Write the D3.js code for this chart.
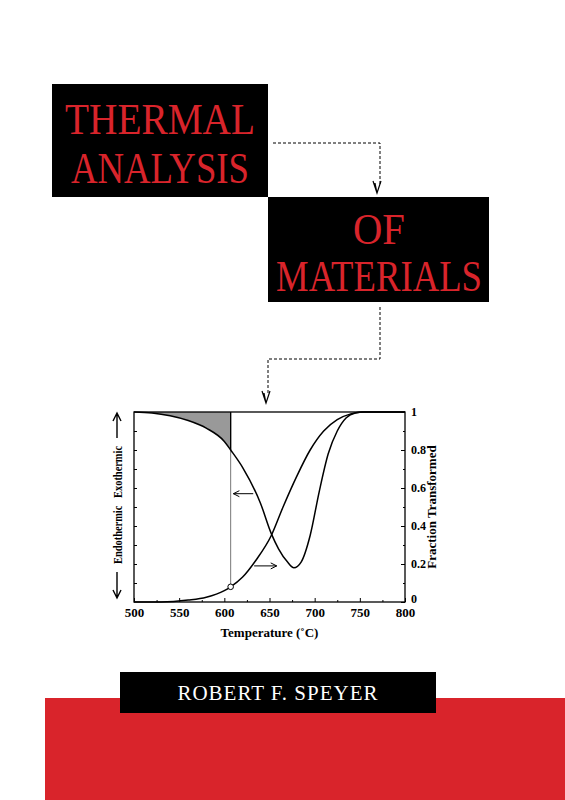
<!DOCTYPE html><html><head><script src="https://cdn.jsdelivr.net/npm/d3@7"></script>
<style>body{margin:0;background:#fff}</style></head><body><svg id="c" width="565" height="800"></svg>
<script>
const dscT=[500,520,540,560,580,600,607,620,640,652,660,670,677,685,695,705,715,725,735,745,755,800];
const dscV=[1,0.995,0.98,0.955,0.915,0.845,0.8,0.71,0.52,0.36,0.28,0.21,0.18,0.21,0.35,0.58,0.78,0.9,0.97,0.995,1,1];
const fracT=[500,530,560,580,600,607,620,635,652,665,680,695,710,725,740,752,800];
const fracV=[0,0,0.01,0.025,0.06,0.08,0.13,0.22,0.35,0.5,0.66,0.8,0.9,0.96,0.99,1,1];
const xTicks=[500,550,600,650,700,750,800];
const yTicks=[0,0.2,0.4,0.6,0.8,1];
const markT=607;

const svg=d3.select("#c");
const red="#d9242b";
svg.append("rect").attr("x",52).attr("y",84).attr("width",216).attr("height",113).attr("fill","#000");
svg.append("rect").attr("x",268).attr("y",197).attr("width",221).attr("height",105).attr("fill","#000");
const tf=(x,y,t,s)=>svg.append("text").attr("x",x).attr("y",y).attr("text-anchor","middle").attr("fill",red)
 .attr("font-family","Liberation Serif").attr("font-size",s).text(t);
tf(160,134,"THERMAL",45).attr("textLength",190).attr("lengthAdjust","spacingAndGlyphs");
tf(160,183,"ANALYSIS",45).attr("textLength",178).attr("lengthAdjust","spacingAndGlyphs");
tf(379,244,"OF",45).attr("textLength",52).attr("lengthAdjust","spacingAndGlyphs");
tf(379,291,"MATERIALS",45).attr("textLength",206).attr("lengthAdjust","spacingAndGlyphs");
const dash=(pts)=>svg.append("path").attr("d",d3.line()(pts)).attr("fill","none").attr("stroke","#000").attr("stroke-dasharray","3,2").attr("stroke-width",1);
dash([[273,143],[380,143],[380,185]]);
dash([[380,307],[380,359],[268,359],[268,395]]);
const head=(x,y)=>svg.append("path").attr("d",`M${x-4},${y-12}L${x},${y}L${x+4},${y-12}M${x-2},${y-10}L${x},${y}`).attr("fill","none").attr("stroke","#000").attr("stroke-width",1.2);
head(377,193);head(266,403);

const L=134,R=405,T=412,B=602;
const x=d3.scaleLinear().domain([500,800]).range([L,R]);
const y=d3.scaleLinear().domain([0,1]).range([B,T]);
const g=svg.append("g");
const sh=dscT.map((t,i)=>[t,dscV[i]]).filter(d=>d[0]<=markT);
g.append("path").attr("d",d3.area().x(d=>x(d[0])).y0(y(1)).y1(d=>y(d[1])).curve(d3.curveMonotoneX)(sh)).attr("fill","#999");
g.append("rect").attr("x",L).attr("y",T).attr("width",R-L).attr("height",B-T).attr("fill","none").attr("stroke","#000").attr("stroke-width",1.3);
g.append("line").attr("x1",x(markT)).attr("x2",x(markT)).attr("y1",y(1)).attr("y2",y(0.08)).attr("stroke","#555").attr("stroke-width",0.8);
g.append("line").attr("x1",x(markT)).attr("x2",x(markT)).attr("y1",y(1)).attr("y2",y(0.8)).attr("stroke","#000").attr("stroke-width",1.3);
const ln=d3.line().x(d=>x(d[0])).y(d=>y(d[1])).curve(d3.curveMonotoneX);
g.append("path").attr("d",ln(dscT.map((t,i)=>[t,dscV[i]]))).attr("fill","none").attr("stroke","#000").attr("stroke-width",1.5);
g.append("path").attr("d",ln(fracT.map((t,i)=>[t,fracV[i]]))).attr("fill","none").attr("stroke","#000").attr("stroke-width",1.5);
g.append("circle").attr("cx",x(markT)).attr("cy",y(0.08)).attr("r",2.8).attr("fill","#fff").attr("stroke","#000");
g.append("g").attr("transform",`translate(0,${B})`).call(d3.axisBottom(x).tickValues(xTicks).tickSize(-4).tickPadding(6))
 .call(a=>{a.select(".domain").remove();a.selectAll("text").attr("font-family","Liberation Serif").attr("font-weight","bold").attr("font-size",13).attr("fill","#000");});
g.append("g").attr("transform",`translate(0,${B})`).call(d3.axisBottom(x).tickValues(d3.range(525,800,50)).tickSize(-2).tickFormat(""))
 .call(a=>a.select(".domain").remove());
g.append("g").attr("transform",`translate(${R},0)`).call(d3.axisRight(y).tickValues(yTicks).tickSize(-4).tickPadding(6).tickFormat(d=>d===0||d===1?d:d.toFixed(1)))
 .call(a=>{a.select(".domain").remove();a.selectAll("text").attr("font-family","Liberation Serif").attr("font-weight","bold").attr("font-size",12).attr("fill","#000");
   a.selectAll("text").filter(d=>d===0).attr("dy","0.05em");});
g.append("g").attr("transform",`translate(${R},0)`).call(d3.axisRight(y).tickValues(d3.range(0.1,1,0.2)).tickSize(-2).tickFormat(""))
 .call(a=>a.select(".domain").remove());
g.append("g").attr("transform",`translate(${L},0)`).call(d3.axisLeft(y).tickValues(d3.range(0.1,1,0.1)).tickSize(-3).tickFormat(""))
 .call(a=>a.select(".domain").remove());
svg.append("text").attr("x",(L+R)/2).attr("y",637).attr("text-anchor","middle").attr("font-family","Liberation Serif").attr("font-weight","bold").attr("font-size",13).text("Temperature (˚C)");
svg.append("text").attr("transform",`translate(436,${(T+B)/2}) rotate(-90)`).attr("text-anchor","middle").attr("font-family","Liberation Serif").attr("font-weight","bold").attr("font-size",13).text("Fraction Transformed");
svg.append("text").attr("transform",`translate(122,505) rotate(-90)`).attr("text-anchor","middle").attr("font-family","Liberation Serif").attr("font-weight","bold").attr("font-size",13).attr("xml:space","preserve").attr("textLength",118).attr("lengthAdjust","spacingAndGlyphs").text("Endothermic   Exothermic");
const st=(d)=>svg.append("path").attr("d",d).attr("fill","none").attr("stroke","#000").attr("stroke-width",1.4);
st("M117,438L117,414M113,421L117,413L121,421");
st("M117,572L117,597M113,590L117,598L121,590");
const ha=(t1,t2,v)=>{g.append("line").attr("x1",x(t1)).attr("x2",x(t2)).attr("y1",y(v)).attr("y2",y(v)).attr("stroke","#000").attr("stroke-width",1);
 const xe=x(t2),s=Math.sign(x(t2)-x(t1));g.append("path").attr("d",`M${xe-6*s},${y(v)-3}L${xe},${y(v)}L${xe-6*s},${y(v)+3}`).attr("fill","none").attr("stroke","#000");};
ha(632,610,0.57);ha(633,658,0.19);
svg.append("rect").attr("x",45).attr("y",698).attr("width",520).attr("height",102).attr("fill",red);
svg.append("rect").attr("x",120).attr("y",672).attr("width",316).attr("height",41).attr("fill","#000");
svg.append("text").attr("x",278).attr("y",700).attr("text-anchor","middle").attr("fill","#fff").attr("font-family","Liberation Serif").attr("font-size",21).attr("letter-spacing",1).text("ROBERT F. SPEYER");
</script></body></html>
